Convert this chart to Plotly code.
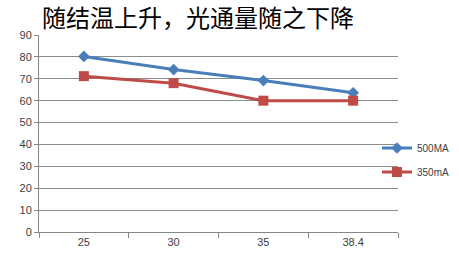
import plotly.graph_objects as go

categories = ["25", "30", "35", "38.4"]
s500 = [80.2, 74.2, 69.2, 63.6]
s350 = [71.2, 68.0, 60.0, 60.0]
title_text = "随结温上升，光通量随之下降"

fig = go.Figure()
fig.add_trace(go.Scatter(x=categories, y=s500, name="500MA", mode="lines+markers",
                         legendgroup="a",
                         line=dict(color="#4A7EBB", width=3),
                         marker=dict(symbol="diamond", size=9, color="#4A7EBB")))
fig.add_trace(go.Scatter(x=categories, y=s350, name="350mA", mode="lines+markers",
                         legendgroup="b",
                         line=dict(color="#BE4B48", width=3),
                         marker=dict(symbol="square", size=10, color="#BE4B48")))

fig.update_layout(
    width=459, height=263,
    margin=dict(l=39, r=61, t=35, b=31, autoexpand=False),
    paper_bgcolor="white", plot_bgcolor="white",
    title=dict(text=title_text, x=42/459, xanchor="left", y=1 - 10/263, yanchor="top",
               yref="container",
               font=dict(family="Noto Sans CJK SC", size=24, color="#000000")),
    font=dict(family="Liberation Sans", size=11, color="#404040"),
    showlegend=True,
    legend=dict(x=377/459, xanchor="left", y=1 - 160/263, yanchor="middle",
                xref="container", yref="container",
                font=dict(size=10, color="#404040"), bgcolor="rgba(0,0,0,0)",
                itemwidth=30, tracegroupgap=5),
    xaxis=dict(type="category", showgrid=False, showline=True, linecolor="#868686",
               ticks="outside", tickson="boundaries", ticklen=5, tickcolor="#868686",
               range=[-0.5, 3.5]),
    yaxis=dict(range=[0, 90], dtick=10, showgrid=True, gridcolor="#8C8C8C", gridwidth=1,
               showline=True, linecolor="#868686", ticks="outside", ticklen=4,
               tickcolor="#868686", zeroline=False),
)
fig.write_html("out.html")
